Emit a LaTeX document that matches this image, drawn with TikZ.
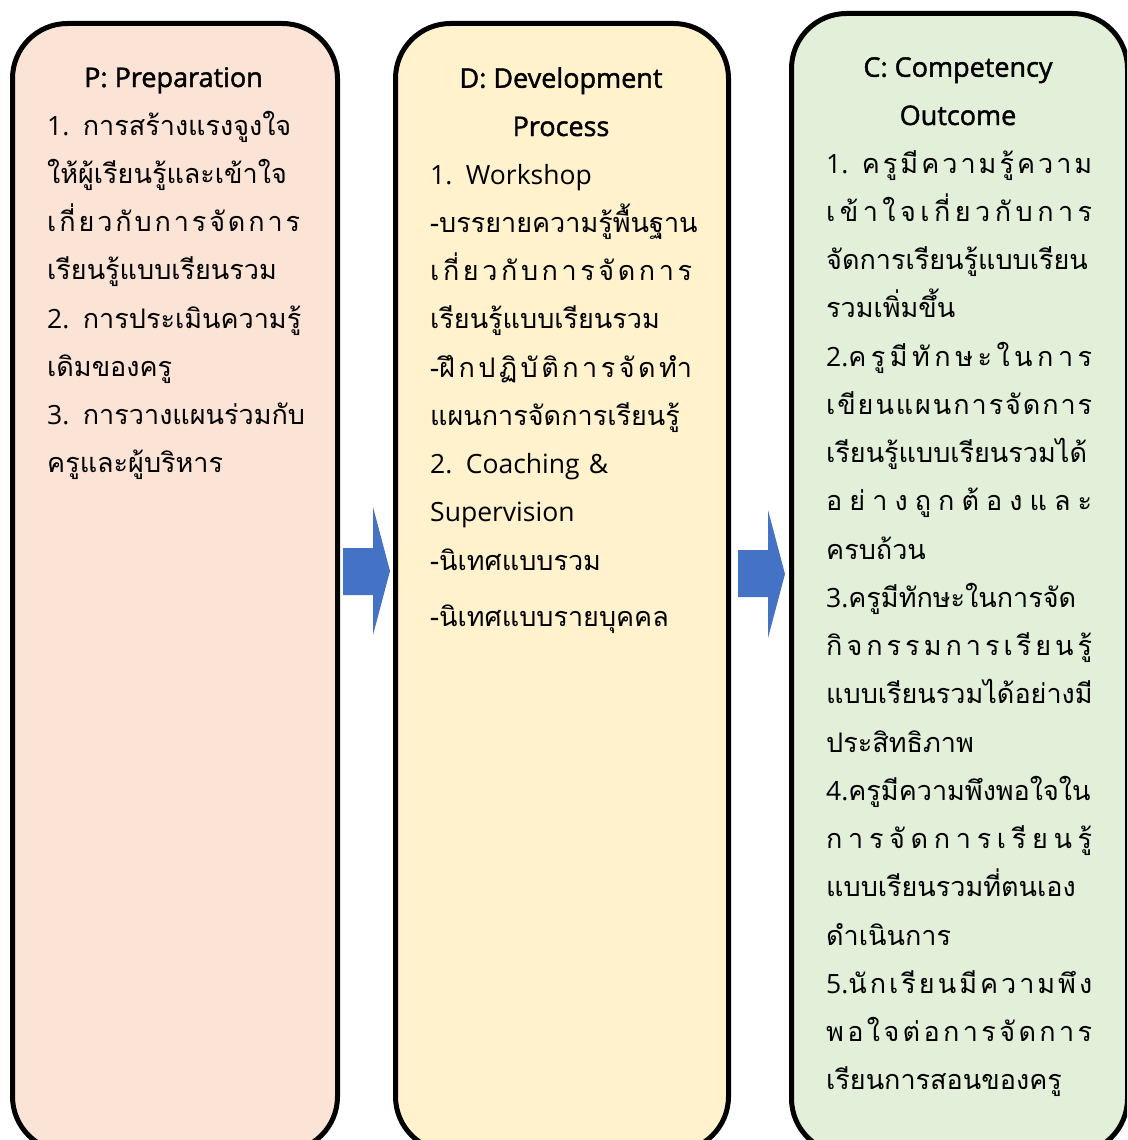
\documentclass[tikz,border=0pt]{standalone}
\usepackage{fontspec}
\setmainfont[Script=Thai]{Loma}
\newfontfamily\latfont{Open Sans}
\newfontfamily\headfont[FakeBold=1.6]{Open Sans}
\usepackage{xcolor}
\usepackage{tikz}
\usetikzlibrary{positioning}

\definecolor{prepfill}{HTML}{FBE3D6}
\definecolor{devfill}{HTML}{FFF2CC}
\definecolor{compfill}{HTML}{E2F0D9}
\definecolor{arrowblue}{HTML}{4472C4}

\newlength{\colw}
\newcommand{\lat}[1]{{\latfont\fontsize{26.5}{48.25}\selectfont #1}}
% spread a line of Thai clusters over the column width
\newcommand{\spread}[1]{\makebox[\colw][s]{\foreach[count=\k] \ch in {#1}{\ifnum\k>1 \hfill\fi\ch}}}

\begin{document}
\begin{tikzpicture}[x=1pt,y=-1pt,
    box/.style={draw=black, line width=5pt, rounded corners=55pt, anchor=north west},
    head/.style={font=\headfont\fontsize{27}{48.25}\selectfont, align=center, anchor=base, inner sep=0pt},
    body/.style={font=\fontsize{27}{48.25}\selectfont, align=left, anchor=base west, inner sep=0pt, text width=330pt},
    blockarrow/.style={fill=arrowblue}]
    \useasboundingbox (0,0) rectangle (1127,1140);
    \clip (0,0) rectangle (1127,1140);

    \begin{scope}[shift={(0,0)}]
        \setlength{\colw}{253pt}
        \node[box, fill=prepfill, minimum width=325pt, minimum height=1128pt] (prep) at (10,21) {};
        \node[head] (preptitle) at (173.5,87) {P: Preparation};
        \node[body] (preptext) at (47,135) {
            \lat{1. }การสร้างแรงจูงใจ\\
            ให้ผู้เรียนรู้และเข้าใจ\\
            \spread{เ,กี่,ย,ว,กั,บ,ก,า,ร,จั,ด,ก,า,ร}\\
            เรียนรู้แบบเรียนรวม\\
            \lat{2. }การประเมินความรู้\\
            เดิมของครู\\
            \lat{3. }การวางแผนร่วมกับ\\
            ครูและผู้บริหาร
        };
    \end{scope}

    \begin{scope}[shift={(0,0)}]
        \setlength{\colw}{262pt}
        \node[box, fill=devfill, minimum width=333pt, minimum height=1128pt] (dev) at (393,21) {};
        \node[head] (devtitle) at (561,136) {D: Development\\Process};
        \node[body] (devtext) at (430,184) {
            \lat{1. Workshop}\\
            -บรรยายความรู้พื้นฐาน\\
            \spread{เ,กี่,ย,ว,กั,บ,ก,า,ร,จั,ด,ก,า,ร}\\
            เรียนรู้แบบเรียนรวม\\
            \spread{-ฝึ,ก,ป,ฏิ,บั,ติ,ก,า,ร,จั,ด,ทำ}\\
            แผนการจัดการเรียนรู้\\
            \lat{2. Coaching \&}\\
            \lat{Supervision}\\
            -นิเทศแบบรวม\\[8pt]
            -นิเทศแบบรายบุคคล
        };
    \end{scope}

    \begin{scope}[shift={(0,0)}]
        \setlength{\colw}{266pt}
        \node[box, fill=compfill, minimum width=336pt, minimum height=1140pt] (comp) at (789,11) {};
        \node[head] (comptitle) at (958,125) {C: Competency\\Outcome};
        \node[body] (comptext) at (826,173) {
            \spread{\lat{1. }ค,รู,มี,ค,ว,า,ม,รู้,ค,ว,า,ม}\\
            \spread{เ,ข้,า,ใ,จ,เ,กี่,ย,ว,กั,บ,ก,า,ร}\\
            จัดการเรียนรู้แบบเรียน\\
            รวมเพิ่มขึ้น\\
            \spread{\lat{2.}ค,รู,มี,ทั,ก,ษ,ะ,ใ,น,ก,า,ร}\\
            \spread{เ,ขี,ย,น,แ,ผ,น,ก,า,ร,จั,ด,ก,า,ร}\\
            เรียนรู้แบบเรียนรวมได้\\
            \spread{อ,ย่,า,ง,ถู,ก,ต้,อ,ง,แ,ล,ะ}\\
            ครบถ้วน\\
            \lat{3.}ครูมีทักษะในการจัด\\
            \spread{กิ,จ,ก,ร,ร,ม,ก,า,ร,เ,รี,ย,น,รู้}\\
            แบบเรียนรวมได้อย่างมี\\
            ประสิทธิภาพ\\
            \lat{4.}ครูมีความพึงพอใจใน\\
            \spread{ก,า,ร,จั,ด,ก,า,ร,เ,รี,ย,น,รู้}\\
            แบบเรียนรวมที่ตนเอง\\
            ดำเนินการ\\
            \spread{\lat{5.}นั,ก,เ,รี,ย,น,มี,ค,ว,า,ม,พึ,ง}\\
            \spread{พ,อ,ใ,จ,ต่,อ,ก,า,ร,จั,ด,ก,า,ร}\\
            เรียนการสอนของครู
        };
    \end{scope}

    % block arrows between the columns
    \fill[blockarrow] (343,548) -- (373,548) -- (373,507) -- (390,571) -- (373,635) -- (373,595) -- (343,595) -- cycle;
    \fill[blockarrow] (738,550) -- (768,550) -- (768,510) -- (785,574) -- (768,638) -- (768,597) -- (738,597) -- cycle;
\end{tikzpicture}
\end{document}
